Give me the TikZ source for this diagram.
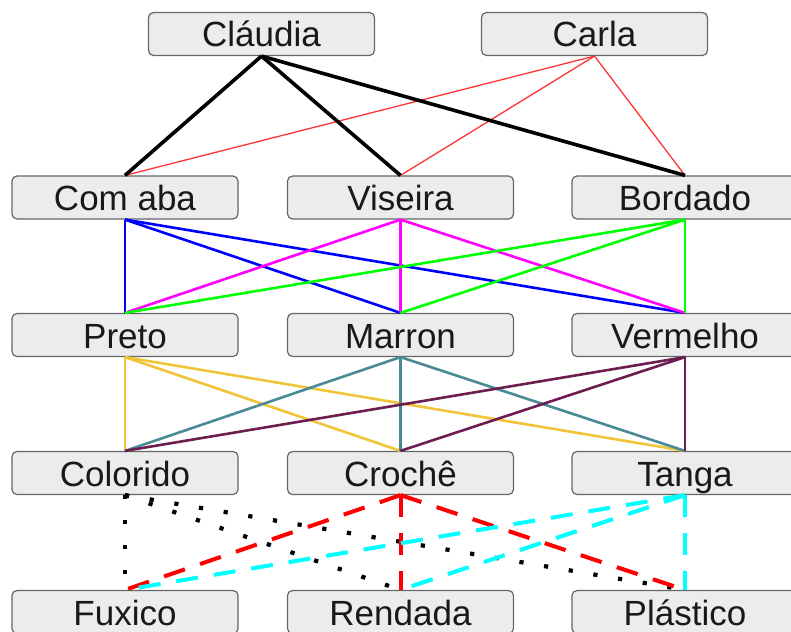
\documentclass[tikz,border=0pt]{standalone}
\usepackage{fontspec}
\setmainfont{Liberation Sans}
\definecolor{boxfill}{HTML}{ECECEC}
\definecolor{boxline}{HTML}{666666}
\definecolor{thinred}{HTML}{FF3333}
\definecolor{cyellow}{HTML}{F2C43A}
\definecolor{cteal}{HTML}{4A8A96}
\definecolor{cpurple}{HTML}{6B1E4F}
\definecolor{pblue}{HTML}{0000FF}
\definecolor{pmagenta}{HTML}{FF00FF}
\definecolor{pgreen}{HTML}{00FF00}
\definecolor{pcyan}{HTML}{00FFFF}
\definecolor{pred}{HTML}{FF0000}
\begin{document}
\begin{tikzpicture}[x=1pt,y=-1pt,
  item/.style={draw=boxline, fill=boxfill, line width=1.2pt, rounded corners=5pt,
    minimum width=226pt, minimum height=43pt, inner sep=0pt,
    text height=26pt, text depth=0pt,
    font=\fontsize{35}{40}\selectfont, text=black!90},
  thickblack/.style={line width=3.6pt, black},
  thinr/.style={line width=1.3pt, thinred},
  col/.style={line width=2.6pt},
  dotline/.style={line width=4.2pt, black, dash pattern=on 4.2pt off 20.8pt},
  dashline/.style={line width=4pt, dash pattern=on 22pt off 16pt}]
\useasboundingbox (0,0) rectangle (791,631);
\clip (0,0) rectangle (791,631);
% nodes
\node[item] (claudia) at (261.5,34) {Cláudia};
\node[item] (carla) at (594.5,34) {Carla};
\node[item] (comaba) at (125,197.5) {Com aba};
\node[item] (viseira) at (400.5,197.5) {Viseira};
\node[item] (bordado) at (685,197.5) {Bordado};
\node[item] (preto) at (125,335) {Preto};
\node[item] (marron) at (400.5,335) {Marron};
\node[item] (vermelho) at (685,335) {Vermelho};
\node[item] (colorido) at (125,473) {Colorido};
\node[item] (croche) at (400.5,473) {Crochê};
\node[item] (tanga) at (685,473) {Tanga};
\node[item] (fuxico) at (125,612) {Fuxico};
\node[item] (rendada) at (400.5,612) {Rendada};
\node[item] (plastico) at (685,612) {Plástico};
% row 1 -> row 2
\draw[thinr] (carla.south) -- (comaba.north);
\draw[thinr] (carla.south) -- (viseira.north);
\draw[thinr] (carla.south) -- (bordado.north);
\draw[thickblack] (claudia.south) -- (comaba.north);
\draw[thickblack] (claudia.south) -- (viseira.north);
\draw[thickblack] (claudia.south) -- (bordado.north);
% row 2 -> row 3
\draw[col, pblue] (comaba.south) -- (preto.north);
\draw[col, pblue] (comaba.south) -- (marron.north);
\draw[col, pblue] (comaba.south) -- (vermelho.north);
\draw[col, pmagenta] (viseira.south) -- (preto.north);
\draw[col, pmagenta] (viseira.south) -- (marron.north);
\draw[col, pmagenta] (viseira.south) -- (vermelho.north);
\draw[col, pgreen] (bordado.south) -- (preto.north);
\draw[col, pgreen] (bordado.south) -- (marron.north);
\draw[col, pgreen] (bordado.south) -- (vermelho.north);
% row 3 -> row 4
\draw[col, cyellow] (preto.south) -- (colorido.north);
\draw[col, cyellow] (preto.south) -- (croche.north);
\draw[col, cyellow] (preto.south) -- (tanga.north);
\draw[col, cteal] (marron.south) -- (colorido.north);
\draw[col, cteal] (marron.south) -- (croche.north);
\draw[col, cteal] (marron.south) -- (tanga.north);
\draw[col, cpurple] (vermelho.south) -- (colorido.north);
\draw[col, cpurple] (vermelho.south) -- (croche.north);
\draw[col, cpurple] (vermelho.south) -- (tanga.north);
% row 4 -> row 5
\draw[dotline] (colorido.south) -- (fuxico.north);
\draw[dotline] (colorido.south) -- (rendada.north);
\draw[dotline] (colorido.south) -- (plastico.north);
\draw[dashline, pred] (croche.south) -- (fuxico.north);
\draw[dashline, pred] (croche.south) -- (rendada.north);
\draw[dashline, pred] (croche.south) -- (plastico.north);
\draw[dashline, pcyan] (tanga.south) -- (fuxico.north);
\draw[dashline, pcyan] (tanga.south) -- (rendada.north);
\draw[dashline, pcyan] (tanga.south) -- (plastico.north);
\end{tikzpicture}
\end{document}
